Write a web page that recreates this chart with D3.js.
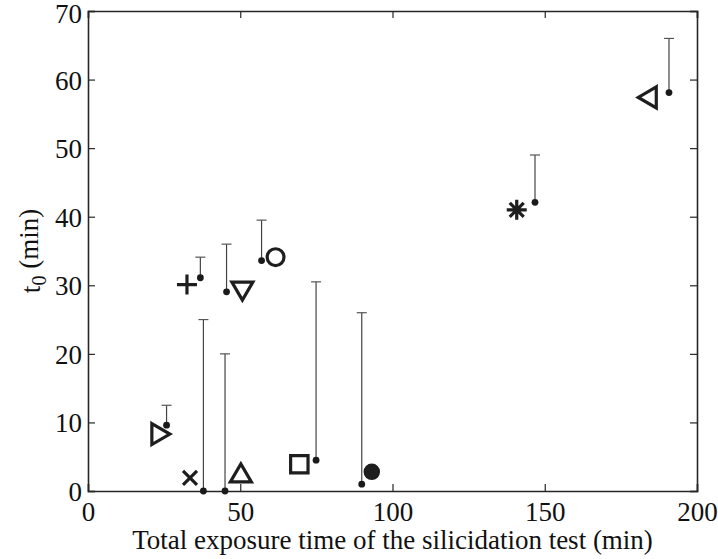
<!DOCTYPE html>
<html><head><meta charset="utf-8">
<script src="https://cdn.jsdelivr.net/npm/d3@7"></script>
<style>body{margin:0;background:#fff}svg{display:block}</style>
</head><body>
<script>
// ---- data ----
const markerShapes = ["triRight","x","plus","triDown","triUp","circle","square","dot","star","triLeft"];
const markerX = [23.6, 33.5, 32.5, 50.7, 50.2, 61.6, 69.4, 93.2, 140.8, 184.0];
const markerY = [8.3, 1.9, 30.1, 29.3, 2.5, 34.1, 3.9, 2.8, 41.0, 57.4];

const errX   = [25.8, 36.9, 37.9, 45.0, 45.5, 57.0, 74.9, 89.9, 146.8, 190.8];
const errY   = [9.6, 31.1, 0.0, 0.0, 29.05, 33.6, 4.5, 1.0, 42.1, 58.1];
const errTop = [12.5, 34.1, 25.0, 20.0, 36.0, 39.5, 30.5, 26.0, 49.0, 66.0];

const xTicks = [0, 50, 100, 150, 200];
const yTicks = [0, 10, 20, 30, 40, 50, 60, 70];
const xTitle = "Total exposure time of the silicidation test (min)";

// ---- layout ----
const W = 718, H = 559;
const m = {left: 88, right: 21, top: 11, bottom: 68};
const svg = d3.select("body").append("svg").attr("width", W).attr("height", H);
const x = d3.scaleLinear().domain([0, 200]).range([m.left, W - m.right]);
const y = d3.scaleLinear().domain([0, 70]).range([H - m.bottom, m.top]);
const ink = "#262626";
const font = "'Liberation Serif', 'Times New Roman', serif";

// axes
const tl = 7;
const gx = svg.append("g").attr("transform", `translate(0,${y(0)})`)
  .call(d3.axisBottom(x).tickValues(xTicks).tickSize(-tl).tickPadding(tl + 4).tickFormat(d3.format("d")));
const gxt = svg.append("g").attr("transform", `translate(0,${y(70)})`)
  .call(d3.axisTop(x).tickValues(xTicks).tickSize(-tl).tickFormat(""));
const gy = svg.append("g").attr("transform", `translate(${x(0)},0)`)
  .call(d3.axisLeft(y).tickValues(yTicks).tickSize(-tl).tickPadding(tl - 1).tickFormat(d3.format("d")));
const gyr = svg.append("g").attr("transform", `translate(${x(200)},0)`)
  .call(d3.axisRight(y).tickValues(yTicks).tickSize(-tl).tickFormat(""));
[gx, gxt, gy, gyr].forEach(g => {
  g.select(".domain").attr("stroke", ink).attr("stroke-width", 1.6);
  g.selectAll(".tick line").attr("stroke", ink).attr("stroke-width", 1.2);
  g.selectAll("text").attr("fill", "#111").style("font-family", font).style("font-size", "27px");
});
gx.selectAll(".tick text").attr("dy", "0.71em");
gy.selectAll(".tick text").attr("dy", d => d === 70 ? "0.42em" : "0.35em");

// error bars (one-sided)
const eb = svg.append("g");
errX.forEach((ex, i) => {
  const px = x(ex);
  eb.append("line").attr("x1", px).attr("x2", px).attr("y1", y(errY[i])).attr("y2", y(errTop[i]))
    .attr("stroke", "#444").attr("stroke-width", 1.2);
  eb.append("line").attr("x1", px - 5).attr("x2", px + 5).attr("y1", y(errTop[i])).attr("y2", y(errTop[i]))
    .attr("stroke", "#555").attr("stroke-width", 1.2);
  eb.append("circle").attr("cx", px).attr("cy", y(errY[i])).attr("r", 3.4).attr("fill", "#1a1a1a");
});

// markers
const mk = svg.append("g").attr("fill", "none").attr("stroke", "#1e1e1e").attr("stroke-width", 3.2);
const shapes = {
  triRight: "M-8,-10.5L10,0L-8,10.5Z",
  triLeft:  "M8,-10.5L-10,0L8,10.5Z",
  triDown:  "M-10.5,-8L10.5,-8L0,10Z",
  triUp:    "M-10.5,8L10.5,8L0,-10Z",
  plus:     "M-10,0L10,0M0,-10L0,10",
  x:        "M-7,-7L7,7M-7,7L7,-7",
  star:     "M-10,0L10,0M0,-10L0,10M-7,-7L7,7M-7,7L7,-7",
  square:   "M-8.7,-8.7L8.7,-8.7L8.7,8.7L-8.7,8.7Z"
};
markerShapes.forEach((s, i) => {
  const px = x(markerX[i]), py = y(markerY[i]);
  if (s === "circle") {
    mk.append("circle").attr("cx", px).attr("cy", py).attr("r", 8.4);
  } else if (s === "dot") {
    mk.append("circle").attr("cx", px).attr("cy", py).attr("r", 7.5).attr("fill", "#1e1e1e").attr("stroke-width", 1.5);
  } else {
    mk.append("path").attr("d", shapes[s]).attr("transform", `translate(${px},${py})`)
      .attr("stroke-linejoin", "miter");
  }
});

// titles
svg.append("text").attr("x", (x(0) + x(200)) / 2).attr("y", 549).attr("text-anchor", "middle")
  .style("font-family", font).style("font-size", "27px").attr("fill", "#111").text(xTitle);
const yt = svg.append("text").attr("transform", `translate(40,${(y(0) + y(70)) / 2}) rotate(-90)`)
  .attr("text-anchor", "middle").style("font-family", font).style("font-size", "27px").attr("fill", "#111");
yt.append("tspan").text("t");
yt.append("tspan").attr("dy", "0.3em").style("font-size", "20px").text("0");
yt.append("tspan").attr("dy", "-0.3em").text(" (min)");
</script>
</body></html>
